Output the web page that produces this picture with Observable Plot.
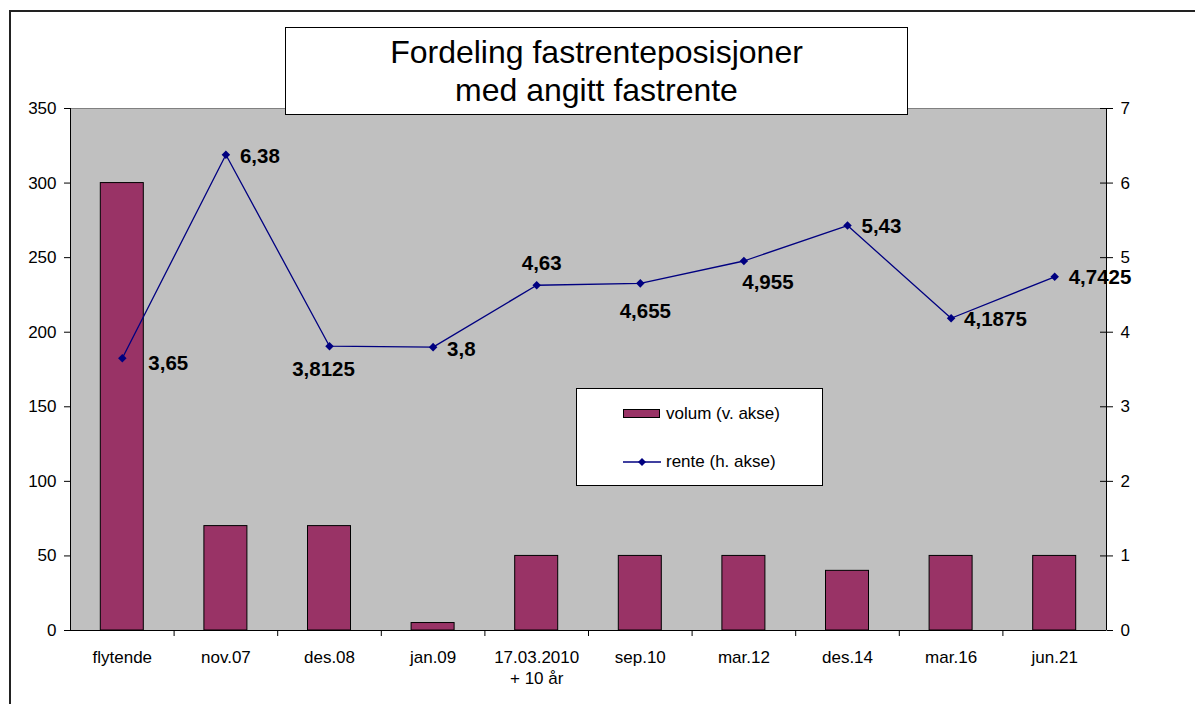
<!DOCTYPE html>
<html>
<head>
<meta charset="utf-8">
<script src="https://cdn.jsdelivr.net/npm/d3@7"></script>
<script src="https://cdn.jsdelivr.net/npm/@observablehq/plot@0.6"></script>
<style>
  body { margin: 0; background: #fff; font-family: "Liberation Sans", Arial, sans-serif; }
  #wrap { position: relative; width: 1195px; height: 704px; overflow: hidden; background: #fff; }
  #chart { position: absolute; left: 0; top: 0; }
  #border { position: absolute; left: 9px; top: 10px; width: 1400px; height: 900px;
            border-left: 2px solid #222; border-top: 2px solid #222; pointer-events: none; }
  #title { position: absolute; left: 285px; top: 27px; width: 621px; height: 86px;
           border: 1px solid #000; background: #fff; text-align: center;
           font-size: 32px; line-height: 38px; color: #000; box-sizing: content-box; }
  #title .inner { padding-top: 5px; }
  #legend { position: absolute; left: 576px; top: 388px; width: 245px; height: 96px;
            border: 1px solid #000; background: #fff; }
  .legtext { position: absolute; left: 89px; font-size: 17px; line-height: 19px; color: #000; white-space: nowrap; }
  .swatch { position: absolute; left: 46px; top: 20px; width: 35px; height: 7px;
            background: #993366; border: 1px solid #000; }
  .lineSample { position: absolute; left: 44px; top: 66px; }
</style>
</head>
<body>
<div id="wrap">
  <div id="chart"></div>
  <div id="border"></div>
  <div id="title"><div class="inner">Fordeling fastrenteposisjoner<br>med angitt fastrente</div></div>
  <div id="legend">
    <div class="swatch"></div>
    <div class="legtext" style="top:15px">volum (v. akse)</div>
    <svg class="lineSample" width="44" height="14">
      <line x1="2" y1="7" x2="40" y2="7" stroke="#000080" stroke-width="1.3"></line>
      <path d="M21,3 L25,7 L21,11 L17,7 Z" fill="#000080"></path>
    </svg>
    <div class="legtext" style="top:63px">rente (h. akse)</div>
  </div>
</div>
<script>
// ---- data ----
const categories = ["flytende", "nov.07", "des.08", "jan.09", "17.03.2010\n+ 10 år", "sep.10", "mar.12", "des.14", "mar.16", "jun.21"];
const volum = [300, 70, 70, 5, 50, 50, 50, 40, 50, 50];
const rente = [3.65, 6.38, 3.8125, 3.8, 4.63, 4.655, 4.955, 5.43, 4.1875, 4.7425];
const leftTicks = [0, 50, 100, 150, 200, 250, 300, 350];
const rightTicks = [0, 1, 2, 3, 4, 5, 6, 7];

// label placement (style only): offsets from each point
const labelPlacement = [
  {dx: 26, dy: 5, anchor: "start"},
  {dx: 14, dy: 2, anchor: "start"},
  {dx: -6, dy: 23, anchor: "middle"},
  {dx: 14, dy: 2, anchor: "start"},
  {dx: 5, dy: -22, anchor: "middle"},
  {dx: 5, dy: 28, anchor: "middle"},
  {dx: 24, dy: 21, anchor: "middle"},
  {dx: 14, dy: 1, anchor: "start"},
  {dx: 13, dy: 1, anchor: "start"},
  {dx: 14, dy: 1, anchor: "start"}
];

// ---- layout ----
const W = 1195, H = 704;
const mL = 70, mR = 89, mT = 108, mB = 74;
const plotW = W - mL - mR, plotH = H - mT - mB;
const step = plotW / categories.length;
const k = leftTicks[leftTicks.length - 1] / rightTicks[rightTicks.length - 1]; // right axis -> left axis

const data = categories.map((c, i) => ({cat: c, volum: volum[i], rente: rente[i]}));
const fmt = v => String(v).replace(".", ",");

const labelMarks = data.map((d, i) => Plot.text([d], {
  x: "cat", y: v => v.rente * k, text: v => fmt(v.rente),
  dx: labelPlacement[i].dx, dy: labelPlacement[i].dy, textAnchor: labelPlacement[i].anchor,
  fontSize: 20.5, fontWeight: "bold", fill: "#000"
}));

const chart = Plot.plot({
  width: W, height: H,
  marginLeft: mL, marginRight: mR, marginTop: mT, marginBottom: mB,
  style: {fontFamily: "'Liberation Sans', Arial, sans-serif", fontSize: "17px", background: "transparent", color: "#000"},
  x: {type: "band", domain: categories, padding: 0, round: false, label: null},
  y: {domain: [0, 350], round: false, label: null},
  marks: [
    Plot.frame({fill: "#c0c0c0", stroke: "#808080"}),
    Plot.barY(data, {x: "cat", y: "volum", fill: "#993366", stroke: "#000", strokeWidth: 1, insetLeft: 30.3, insetRight: 30.3}),
    Plot.ruleY([0], {stroke: "#000", strokeWidth: 1}),
    Plot.ruleX([categories[0]], {dx: -step / 2, stroke: "#000", strokeWidth: 1}),
    Plot.ruleX([categories[categories.length - 1]], {dx: step / 2, stroke: "#000", strokeWidth: 1}),
    Plot.ruleX(categories.slice(1), {dx: -step / 2, insetTop: plotH, insetBottom: -6, stroke: "#000"}),
    Plot.ruleY(leftTicks, {insetLeft: plotW - 6, stroke: "#000"}),
    Plot.axisY(leftTicks, {anchor: "left", tickSize: 6, tickPadding: 8, fontSize: 17, label: null}),
    Plot.axisY(rightTicks.map(v => v * k), {anchor: "right", tickSize: 6, tickPadding: 8, fontSize: 17, label: null, tickFormat: d => String(d / k)}),
    Plot.axisX({anchor: "bottom", tickSize: 0, tickPadding: 17, fontSize: 17, lineHeight: 1.25, label: null}),
    Plot.line(data, {x: "cat", y: d => d.rente * k, stroke: "#000080", strokeWidth: 1.3}),
    Plot.dot(data, {x: "cat", y: d => d.rente * k, symbol: "square", r: 3.4, rotate: 45, fill: "#000080", stroke: "none"}),
    ...labelMarks
  ]
});
document.getElementById("chart").appendChild(chart);
</script>
</body>
</html>
